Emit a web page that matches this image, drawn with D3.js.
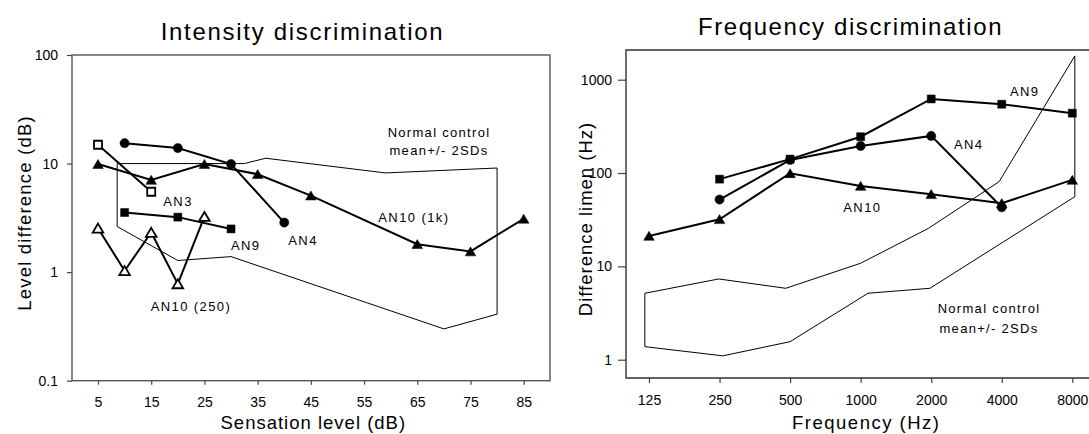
<!DOCTYPE html>
<html>
<head>
  <meta charset="UTF-8">
  <title>Intensity and frequency discrimination</title>
  <script src="https://cdn.jsdelivr.net/npm/d3@7"></script>
  <style>
    body { margin: 0; background: #fff; }
    svg { display: block; font-family: "Liberation Sans", Arial, sans-serif; }
  </style>
</head>
<body>
<div id="chart"></div>
<script>
// ---- Intensity discrimination: level difference (dB) vs sensation level (dB)
var slTicks = [5, 15, 25, 35, 45, 55, 65, 75, 85];
var ldTicks = [0.1, 1, 10, 100];
var an3SL = [5, 15],              an3LD = [14.9, 5.5];
var an4SL = [10, 20, 30, 40],     an4LD = [15.4, 13.9, 9.9, 2.86];
var an9SL = [10, 20, 30],         an9LD = [3.54, 3.21, 2.5];
var an10kSL = [5, 15, 25, 35, 45, 65, 75, 85];
var an10kLD = [9.9, 7.07, 9.9, 7.98, 5.07, 1.81, 1.55, 3.1];
var an10lSL = [5, 10, 15, 20, 25], an10lLD = [2.54, 1.03, 2.32, 0.78, 3.25];
var normSL = [8.6, 32.5, 36.5, 59, 80, 80, 70, 30, 20, 8.6];
var normLD = [10, 10, 11.2, 8.2, 9.1, 0.41, 0.3, 1.39, 1.28, 2.63];

// ---- Frequency discrimination: difference limen (Hz) vs frequency (Hz)
var freqTicks = [125, 250, 500, 1000, 2000, 4000, 8000];
var dlTicks = [1, 10, 100, 1000];
var an9F = [250, 500, 1000, 2000, 4000, 8000],       an9DL = [86, 141, 245, 622, 546, 438];
var an4F = [250, 500, 1000, 2000, 4000],             an4DL = [52, 138, 195, 250, 43];
var an10F = [125, 250, 500, 1000, 2000, 4000, 8000], an10DL = [21.2, 32, 99.5, 72.7, 59.3, 47.5, 84.4];
var normF = [120, 248, 479, 1000, 1950, 3900, 8200, 8200, 1975, 1075, 500, 258, 120];
var normDL = [5.15, 7.33, 5.82, 10.8, 25.6, 80.9, 1800, 55.8, 5.82, 5.15, 1.56, 1.1, 1.38];

var svg = d3.select("#chart").append("svg")
    .attr("width", 1089).attr("height", 434);
svg.append("rect").attr("width", 1089).attr("height", 434).attr("fill", "#fff");

// marker shapes
var tri = { draw: function(c, s) { c.moveTo(0, -4.6); c.lineTo(5.3, 4.4); c.lineTo(-5.3, 4.4); c.closePath(); } };
var sq  = { draw: function(c, s) { c.rect(-4, -4, 8, 8); } };
var circ = { draw: function(c, s) { c.arc(0, 0, 4.6, 0, 2 * Math.PI); } };

function zip(a, b) { return a.map(function(v, i) { return [v, b[i]]; }); }

function series(g, x, y, xs, ys, shape, open) {
  var pts = zip(xs, ys);
  g.append("path")
    .attr("d", d3.line().x(function(d) { return x(d[0]); }).y(function(d) { return y(d[1]); })(pts))
    .attr("fill", "none").attr("stroke", "#000").attr("stroke-width", 2);
  g.selectAll(null).data(pts).enter().append("path")
    .attr("transform", function(d) { return "translate(" + x(d[0]) + "," + y(d[1]) + ")"; })
    .attr("d", d3.symbol().type(shape)())
    .attr("fill", open ? "#fff" : "#000")
    .attr("stroke", "#000").attr("stroke-width", open ? 1.8 : 0.5);
}

function normal(g, x, y, xs, ys) {
  g.append("path")
    .attr("d", d3.line().curve(d3.curveLinearClosed)
      .x(function(d) { return x(d[0]); }).y(function(d) { return y(d[1]); })(zip(xs, ys)))
    .attr("fill", "none").attr("stroke", "#000").attr("stroke-width", 1);
}

function label(g, x, y, txt, size, ls, anchor) {
  return g.append("text").attr("x", x).attr("y", y).text(txt)
    .attr("font-size", size).attr("letter-spacing", ls)
    .attr("text-anchor", anchor || "start").attr("fill", "#000");
}

function styleAxis(sel) {
  sel.select(".domain").remove();
  sel.selectAll(".tick line").attr("stroke", "#444").attr("stroke-width", 1.2);
  sel.selectAll(".tick text").attr("font-size", 14).attr("fill", "#000")
    .attr("font-family", "Liberation Sans, Arial, sans-serif");
}

// ===== left chart =====
var L = { left: 72, right: 550, top: 55, bottom: 380.7 };
var xL = d3.scaleLinear().domain([0, 90]).range([71.4, 550.3]);
var yL = d3.scaleLog().domain([0.1, 100]).range([L.bottom, L.top]);
var gL = svg.append("g");

gL.append("g").attr("transform", "translate(" + L.left + ",0)")
  .call(d3.axisLeft(yL).tickValues(ldTicks).tickFormat(d3.format("~g")).tickSize(5).tickPadding(9))
  .call(styleAxis);
gL.append("g").attr("transform", "translate(0," + L.bottom + ")")
  .call(d3.axisBottom(xL).tickValues(slTicks).tickSize(4).tickPadding(12))
  .call(styleAxis);
gL.append("rect").attr("x", L.left).attr("y", L.top)
  .attr("width", L.right - L.left).attr("height", L.bottom - L.top)
  .attr("fill", "none").attr("stroke", "#555").attr("stroke-width", 1.4);

normal(gL, xL, yL, normSL, normLD);
series(gL, xL, yL, an10kSL, an10kLD, tri, false);
series(gL, xL, yL, an3SL, an3LD, sq, true);
series(gL, xL, yL, an4SL, an4LD, circ, false);
series(gL, xL, yL, an9SL, an9LD, sq, false);
series(gL, xL, yL, an10lSL, an10lLD, tri, true);

label(gL, 302.5, 40, "Intensity discrimination", 24, 1.7, "middle");
label(gL, 313.3, 429, "Sensation level (dB)", 18.5, 1, "middle");
label(gL, 0, 0, "Level difference (dB)", 18.5, 1.2, "middle")
  .attr("transform", "translate(31,213) rotate(-90)");
label(gL, 163.3, 206, "AN3", 13, 1.4);
label(gL, 231, 250, "AN9", 13, 1.4);
label(gL, 150.7, 310.7, "AN10 (250)", 13, 1.4);
label(gL, 288.3, 245, "AN4", 13, 1.4);
label(gL, 378.3, 221.7, "AN10 (1k)", 13, 1.4);
label(gL, 439, 136.7, "Normal control", 13, 1.3, "middle");
label(gL, 439, 155, "mean+/- 2SDs", 13, 1.3, "middle");

// ===== right chart =====
var R = { left: 626, right: 1100, top: 50, bottom: 378 };
var xR = d3.scaleLog().base(2).domain([125, 8000]).range([649, 1072.3]);
var yR = d3.scaleLog().domain([1, 1000]).range([359.7, 79.7]);
var gR = svg.append("g");

gR.append("g").attr("transform", "translate(" + R.left + ",0)")
  .call(d3.axisLeft(yR).tickValues(dlTicks).tickFormat(d3.format("d")).tickSize(8).tickPadding(6))
  .call(styleAxis);
gR.append("g").attr("transform", "translate(0," + R.bottom + ")")
  .call(d3.axisBottom(xR).tickValues(freqTicks).tickFormat(d3.format("d")).tickSize(5).tickPadding(12))
  .call(styleAxis);
gR.append("path")
  .attr("d", "M" + R.right + "," + R.top + "H" + R.left + "V" + R.bottom + "H" + R.right)
  .attr("fill", "none").attr("stroke", "#333").attr("stroke-width", 1.4);

normal(gR, xR, yR, normF, normDL);
series(gR, xR, yR, an10F, an10DL, tri, false);
series(gR, xR, yR, an4F, an4DL, circ, false);
series(gR, xR, yR, an9F, an9DL, sq, false);

label(gR, 850.5, 35, "Frequency discrimination", 24, 1.6, "middle");
label(gR, 866.3, 429, "Frequency (Hz)", 18.5, 1.5, "middle");
label(gR, 0, 0, "Difference limen (Hz)", 18.5, 1, "middle")
  .attr("transform", "translate(592,219) rotate(-90)");
label(gR, 1010, 95.7, "AN9", 13, 1.4);
label(gR, 954, 149.3, "AN4", 13, 1.4);
label(gR, 843.3, 211.7, "AN10", 13, 1.4);
label(gR, 989, 313.3, "Normal control", 13, 1.3, "middle");
label(gR, 989, 332.7, "mean+/- 2SDs", 13, 1.3, "middle");
</script>
</body>
</html>
